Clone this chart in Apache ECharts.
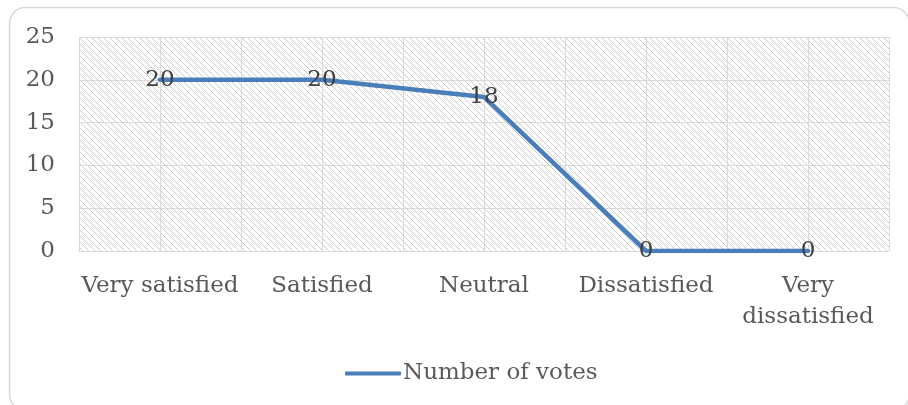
<!DOCTYPE html>
<html>
<head>
<meta charset="utf-8">
<script src="https://cdn.jsdelivr.net/npm/echarts@6/dist/echarts.min.js"></script>
<style>
  html, body { margin: 0; padding: 0; background: #fff; }
  #chart { width: 908px; height: 405px; }
</style>
</head>
<body>
<div id="chart"></div>
<script>
// Satisfaction survey: number of votes per answer
const categories = ['Very satisfied', 'Satisfied', 'Neutral', 'Dissatisfied', 'Very dissatisfied'];
const votes = [20, 20, 18, 0, 0];
const seriesName = 'Number of votes';
const yTicks = { min: 0, max: 25, interval: 5 };

const FONT = 'DejaVu Serif';
const FONT_SIZE = 23;
const GRID_COLOR = '#d9d9d9';

// Diagonal hatch tile for the plot background
function hatchTile() {
  const n = 6;
  const c = document.createElement('canvas');
  c.width = n; c.height = n;
  const ctx = c.getContext('2d');
  ctx.fillStyle = '#ffffff';
  ctx.fillRect(0, 0, n, n);
  ctx.fillStyle = '#cbcbcb';
  for (let i = 0; i < n; i++) ctx.fillRect(i, i, 1, 1);
  return c;
}

const chart = echarts.init(document.getElementById('chart'), null, { renderer: 'canvas' });

chart.setOption({
  animation: false,
  backgroundColor: '#ffffff',
  textStyle: { fontFamily: FONT },
  graphic: [{
    type: 'rect',
    shape: { x: 9.5, y: 7.5, width: 900, height: 403, r: 16 },
    style: { fill: 'none', stroke: '#d9d9d9', lineWidth: 1.5 },
    silent: true,
    z: -1
  }],
  grid: {
    left: 79, right: 19, top: 37, bottom: 154,
    show: true,
    borderWidth: 0,
    backgroundColor: { image: hatchTile(), repeat: 'repeat' }
  },
  legend: {
    data: [seriesName],
    top: 357,
    left: 340,
    icon: 'roundRect',
    itemWidth: 56,
    itemHeight: 4,
    itemGap: 10,
    textStyle: { fontFamily: FONT, fontSize: FONT_SIZE, color: '#595959', padding: [0, 0, 0, -3] }
  },
  xAxis: [{
    type: 'category',
    data: categories,
    boundaryGap: true,
    axisLine: { show: true, lineStyle: { color: GRID_COLOR, width: 1 } },
    axisTick: { show: false },
    splitLine: { show: false },
    axisLabel: {
      fontFamily: FONT,
      fontSize: FONT_SIZE,
      color: '#595959',
      margin: 20,
      lineHeight: 31,
      interval: 0,
      formatter: v => v === 'Very dissatisfied' ? 'Very\ndissatisfied' : v
    }
  }, {
    // half-category grid lines
    type: 'value',
    min: 0, max: 10, interval: 1,
    position: 'bottom',
    axisLine: { show: false },
    axisTick: { show: false },
    axisLabel: { show: false },
    splitLine: { show: true, lineStyle: { color: GRID_COLOR, width: 1 } }
  }],
  yAxis: {
    type: 'value',
    min: yTicks.min, max: yTicks.max, interval: yTicks.interval,
    axisLine: { show: false },
    axisTick: { show: false },
    splitLine: { show: true, lineStyle: { color: GRID_COLOR, width: 1 } },
    axisLabel: { fontFamily: FONT, fontSize: FONT_SIZE, color: '#595959', margin: 24 }
  },
  series: [{
    name: seriesName,
    type: 'line',
    xAxisIndex: 0,
    data: votes,
    symbol: 'circle',
    symbolSize: 1,
    itemStyle: { color: '#4a7ebb' },
    lineStyle: { color: '#4a7ebb', width: 4.5, cap: 'round', join: 'round' },
    label: {
      show: true,
      position: 'inside',
      fontFamily: FONT,
      fontSize: FONT_SIZE,
      color: '#404040'
    }
  }]
});
</script>
</body>
</html>
